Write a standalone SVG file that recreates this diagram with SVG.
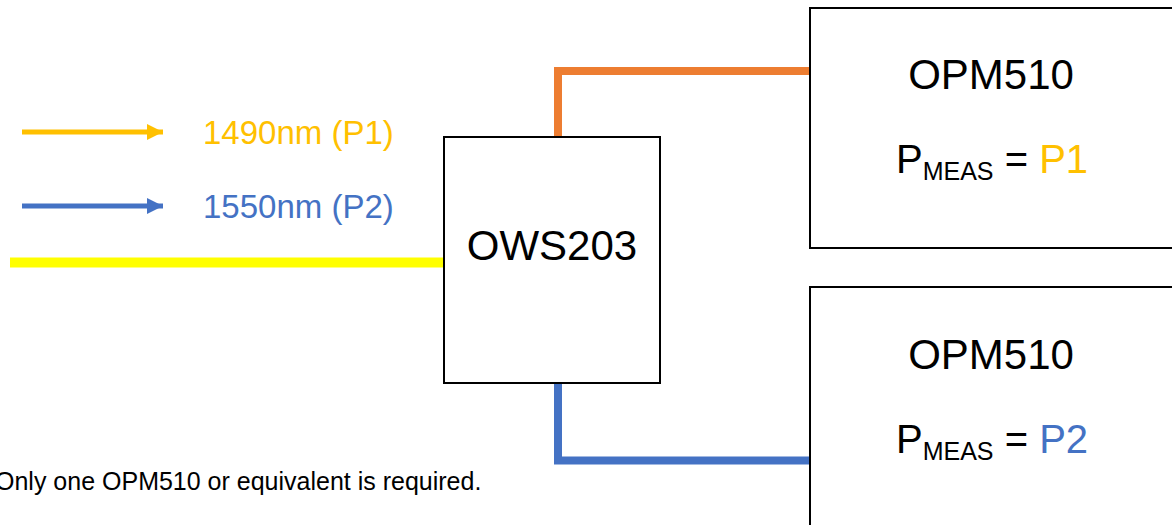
<svg xmlns="http://www.w3.org/2000/svg" width="1172" height="525" viewBox="0 0 1172 525">
<style>
.box{fill:#fff;stroke:#000;stroke-width:2}
.t{font-family:"Liberation Sans",Arial,sans-serif;fill:#000}
.big{font-size:42px}
.pm{font-size:40px}
.leg{font-size:33px}
.sub{font-size:25px}
.wire{fill:none;stroke-width:8;stroke-linejoin:miter}
</style>
<defs>
<marker id="ahY" markerWidth="3.2" markerHeight="3.2" refX="3" refY="1.5" orient="auto" markerUnits="strokeWidth" viewBox="0 0 3 3"><path d="M0,0 L3,1.5 L0,3 z" fill="#FFC000"/></marker>
<marker id="ahB" markerWidth="3.2" markerHeight="3.2" refX="3" refY="1.5" orient="auto" markerUnits="strokeWidth" viewBox="0 0 3 3"><path d="M0,0 L3,1.5 L0,3 z" fill="#4472C4"/></marker>
</defs>
<rect width="1172" height="525" fill="#fff"/>
<g id="legend">
<line x1="22" y1="132" x2="163" y2="132" stroke="#FFC000" stroke-width="5" marker-end="url(#ahY)"/>
<text class="t leg" x="203" y="144" style="fill:#FFC000">1490nm (P1)</text>
<line x1="22" y1="206" x2="163" y2="206" stroke="#4472C4" stroke-width="5" marker-end="url(#ahB)"/>
<text class="t leg" x="203" y="218" style="fill:#4472C4">1550nm (P2)</text>
</g>
<g id="connectors">
<line x1="10" y1="262.5" x2="444" y2="262.5" stroke="#FFFF00" stroke-width="10"/>
<path class="wire" d="M558,137 L558,71 L810,71" stroke="#ED7D31"/>
<path class="wire" d="M558,383 L558,460.5 L810,460.5" stroke="#4472C4"/>
</g>
<g id="ows203">
<rect class="box" x="444" y="137" width="216" height="246"/>
<text class="t big" x="552" y="260" text-anchor="middle">OWS203</text>
</g>
<g id="opm510-top">
<rect class="box" x="810" y="8" width="370" height="240"/>
<text class="t big" x="991" y="89" text-anchor="middle">OPM510</text>
<text class="t pm" x="896" y="173">P<tspan class="sub" dy="7">MEAS</tspan><tspan dy="-7"> = </tspan><tspan style="fill:#FFC000">P1</tspan></text>
</g>
<g id="opm510-bottom">
<rect class="box" x="810" y="287" width="370" height="260"/>
<text class="t big" x="991" y="369" text-anchor="middle">OPM510</text>
<text class="t pm" x="896" y="453">P<tspan class="sub" dy="7">MEAS</tspan><tspan dy="-7"> = </tspan><tspan style="fill:#4472C4">P2</tspan></text>
</g>
<g id="note">
<text class="t" x="-5" y="490" font-size="25">Only one OPM510 or equivalent is required.</text>
</g>
</svg>
